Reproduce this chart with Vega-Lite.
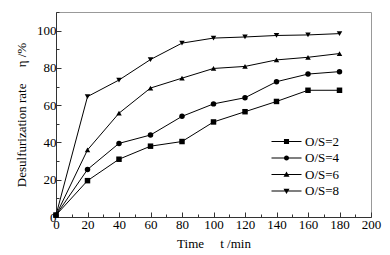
{
  "$schema": "https://vega.github.io/schema/vega-lite/v6.json",
  "width": 315,
  "height": 205,
  "autosize": {"type": "none"},
  "padding": {"left": 56, "top": 12, "right": 19, "bottom": 38},
  "config": {
    "font": "Liberation Serif",
    "view": {"stroke": "#999999", "strokeWidth": 1},
    "axis": {
      "labelFont": "Liberation Serif",
      "titleFont": "Liberation Serif",
      "labelFontSize": 13,
      "titleFontSize": 13,
      "titleFontWeight": "normal",
      "labelColor": "#000000",
      "titleColor": "#000000",
      "domainColor": "#333333",
      "tickColor": "#333333",
      "grid": false
    },
    "legend": {
      "labelFont": "Liberation Serif",
      "labelFontSize": 13,
      "labelColor": "#000000"
    }
  },
  "data": {
    "values": [
      {"t": 0, "eta": 1, "s": "O/S=2"},
      {"t": 20, "eta": 19.5, "s": "O/S=2"},
      {"t": 40, "eta": 31, "s": "O/S=2"},
      {"t": 60, "eta": 38, "s": "O/S=2"},
      {"t": 80, "eta": 40.5, "s": "O/S=2"},
      {"t": 100, "eta": 51, "s": "O/S=2"},
      {"t": 120, "eta": 56.5, "s": "O/S=2"},
      {"t": 140, "eta": 62, "s": "O/S=2"},
      {"t": 160, "eta": 68, "s": "O/S=2"},
      {"t": 180, "eta": 68, "s": "O/S=2"},
      {"t": 0, "eta": 1, "s": "O/S=4"},
      {"t": 20, "eta": 25.5, "s": "O/S=4"},
      {"t": 40, "eta": 39.5, "s": "O/S=4"},
      {"t": 60, "eta": 44, "s": "O/S=4"},
      {"t": 80, "eta": 54, "s": "O/S=4"},
      {"t": 100, "eta": 60.7, "s": "O/S=4"},
      {"t": 120, "eta": 64, "s": "O/S=4"},
      {"t": 140, "eta": 72.6, "s": "O/S=4"},
      {"t": 160, "eta": 76.7, "s": "O/S=4"},
      {"t": 180, "eta": 78, "s": "O/S=4"},
      {"t": 0, "eta": 1, "s": "O/S=6"},
      {"t": 20, "eta": 36, "s": "O/S=6"},
      {"t": 40, "eta": 55.7, "s": "O/S=6"},
      {"t": 60, "eta": 69.2, "s": "O/S=6"},
      {"t": 80, "eta": 74.5, "s": "O/S=6"},
      {"t": 100, "eta": 79.7, "s": "O/S=6"},
      {"t": 120, "eta": 80.8, "s": "O/S=6"},
      {"t": 140, "eta": 84.3, "s": "O/S=6"},
      {"t": 160, "eta": 85.7, "s": "O/S=6"},
      {"t": 180, "eta": 87.7, "s": "O/S=6"},
      {"t": 0, "eta": 1, "s": "O/S=8"},
      {"t": 20, "eta": 64.6, "s": "O/S=8"},
      {"t": 40, "eta": 73.5, "s": "O/S=8"},
      {"t": 60, "eta": 84.5, "s": "O/S=8"},
      {"t": 80, "eta": 93.3, "s": "O/S=8"},
      {"t": 100, "eta": 96, "s": "O/S=8"},
      {"t": 120, "eta": 96.6, "s": "O/S=8"},
      {"t": 140, "eta": 97.4, "s": "O/S=8"},
      {"t": 160, "eta": 97.7, "s": "O/S=8"},
      {"t": 180, "eta": 98.4, "s": "O/S=8"}
    ]
  },
  "encoding": {
    "x": {
      "field": "t",
      "type": "quantitative",
      "scale": {"domain": [0, 200], "nice": false, "zero": false},
      "axis": {
        "title": "Time\u00a0\u00a0\u00a0\u00a0\u00a0t /min",
        "values": [0, 10, 20, 30, 40, 50, 60, 70, 80, 90, 100, 110, 120, 130, 140, 150, 160, 170, 180, 190, 200],
        "labelExpr": "datum.value % 20 ? '' : datum.label",
        "tickSize": {"condition": {"test": "datum.value % 20 === 0", "value": -5}, "value": -3},
        "labelPadding": 6,
        "titlePadding": 4,
        "labelFlush": false,
        "labelOverlap": false
      }
    },
    "y": {
      "field": "eta",
      "type": "quantitative",
      "scale": {"domain": [0, 110], "nice": false},
      "axis": {
        "title": "Desulfurization rate\u00a0\u00a0\u00a0\u00a0\u00a0η /%",
        "values": [0, 10, 20, 30, 40, 50, 60, 70, 80, 90, 100, 110],
        "labelExpr": "(datum.value % 20 || datum.value > 100) ? '' : datum.label",
        "tickSize": {"condition": {"test": "datum.value % 20 === 0", "value": -5}, "value": -3},
        "labelPadding": 5,
        "titlePadding": 8,
        "labelFlush": false,
        "labelOverlap": false
      }
    }
  },
  "layer": [
    {
      "mark": {"type": "line", "color": "#000000", "strokeWidth": 1},
      "encoding": {"detail": {"field": "s"}}
    },
    {
      "mark": {"type": "point", "filled": true, "color": "#000000", "opacity": 1, "size": 30},
      "encoding": {
        "shape": {
          "field": "s",
          "type": "nominal",
          "scale": {"domain": ["O/S=2", "O/S=4", "O/S=6", "O/S=8"], "range": ["square", "circle", "triangle-up", "triangle-down"]},
          "legend": null
        }
      }
    },
    {
      "transform": [{"filter": "datum.t < 0"}],
      "mark": {"type": "point", "filled": true, "color": "#000000", "opacity": 1},
      "encoding": {
        "shape": {
          "field": "s",
          "type": "nominal",
          "scale": {
            "domain": ["O/S=2", "O/S=4", "O/S=6", "O/S=8"],
            "range": [
              "M-5,-0.17H5V0.17H-5ZM-0.85,-0.85H0.85V0.85H-0.85Z",
              "M-5,-0.17H5V0.17H-5ZM0.85,0A0.85,0.85,0,1,1,-0.85,0A0.85,0.85,0,1,1,0.85,0Z",
              "M-5,-0.17H5V0.17H-5ZM0,-1L1,0.75L-1,0.75Z",
              "M-5,-0.17H5V0.17H-5ZM0,1L-1,-0.75L1,-0.75Z"
            ]
          },
          "legend": {
            "title": null,
            "orient": "none",
            "legendX": 224,
            "legendY": 123,
            "padding": 0,
            "symbolSize": 36,
            "symbolFillColor": "#000000",
            "symbolOpacity": 1,
            "labelOffset": 12,
            "rowPadding": 2.5
          }
        }
      }
    }
  ],
  "resolve": {"scale": {"shape": "independent"}}
}
